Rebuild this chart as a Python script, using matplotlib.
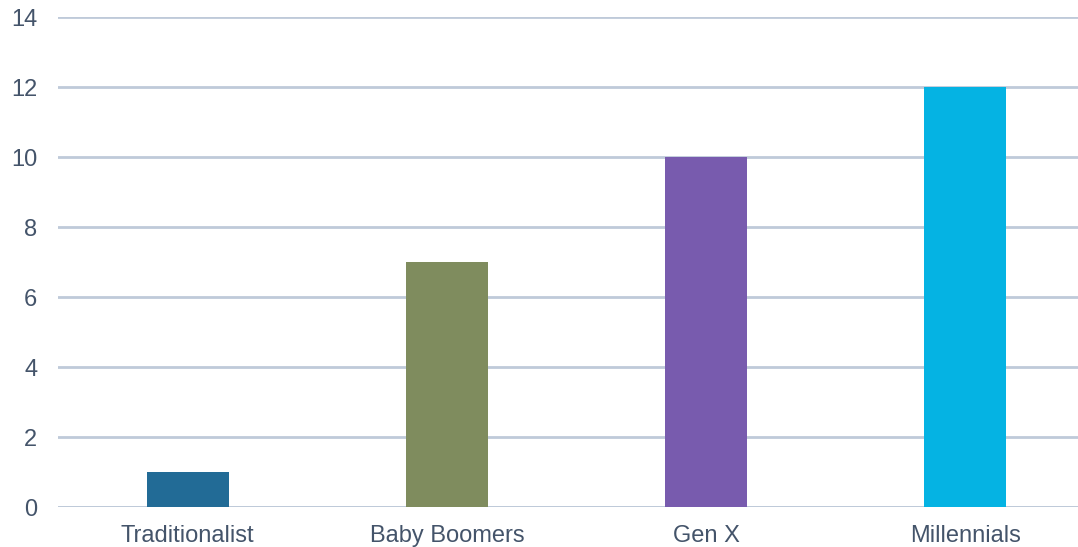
import matplotlib.pyplot as plt

generations = ["Traditionalist", "Baby Boomers", "Gen X", "Millennials"]
values = [1, 7, 10, 12]
bar_colors = ["#226b96", "#7f8c5e", "#785bae", "#05b3e3"]
y_ticks = [0, 2, 4, 6, 8, 10, 12, 14]

plt.rcParams['font.family'] = ['Liberation Sans', 'DejaVu Sans']

fig = plt.figure(figsize=(10.78, 5.47), dpi=100)
# axes runs slightly past the right edge so the last gridline is cut off
ax = fig.add_axes([58 / 1078, 40 / 547, 1037 / 1078, 490 / 547])

x = range(len(generations))
ax.bar(x, values, width=0.316, color=bar_colors, zorder=3)

ax.set_xlim(-0.5, 3.5)
ax.set_ylim(0, 14)
ax.set_yticks(y_ticks)
ax.set_xticks(list(x))
ax.set_xticklabels(generations)

ax.yaxis.grid(True, color="#bfcad9", linewidth=2, zorder=0)
ax.set_axisbelow(True)
for side in ["top", "right", "left", "bottom"]:
    ax.spines[side].set_visible(False)
ax.axhline(0, color="#bfcad9", linewidth=2, zorder=1)

ax.tick_params(axis="both", length=0, labelsize=17, labelcolor="#44546a")
ax.tick_params(axis="y", pad=15)
ax.tick_params(axis="x", pad=13)

fig.savefig("out.png", dpi=100)
